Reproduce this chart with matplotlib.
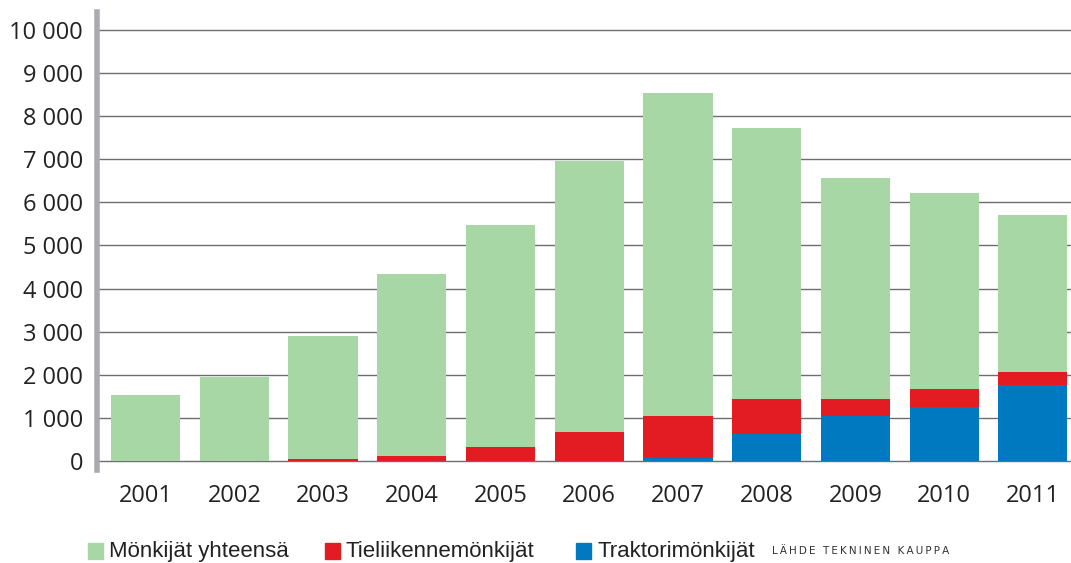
import matplotlib.pyplot as plt
import numpy as np
from matplotlib.patches import Rectangle

plt.rcParams["font.family"] = ["Open Sans", "DejaVu Sans"]

years = ["2001", "2002", "2003", "2004", "2005", "2006", "2007", "2008", "2009", "2010", "2011"]
total = [1530, 1950, 2900, 4340, 5480, 6960, 8540, 7730, 6570, 6220, 5710]
road = [0, 0, 50, 115, 325, 675, 1045, 1440, 1440, 1670, 2065]
tractor = [0, 0, 0, 0, 0, 0, 75, 635, 1050, 1255, 1765]

series_labels = ["Mönkijät yhteensä", "Tieliikennemönkijät", "Traktorimönkijät"]
colors = ["#a8d7a6", "#e31b23", "#0079c1"]
y_ticks = [0, 1000, 2000, 3000, 4000, 5000, 6000, 7000, 8000, 9000, 10000]

W, H = 1071, 563
fig = plt.figure(figsize=(W / 100, H / 100), dpi=100)
ax = fig.add_axes([0.0906, 0.165, 0.9094, 0.814])

x = np.arange(len(years))
w = 0.78
ax.bar(x, total, width=w, color=colors[0], zorder=2)
ax.bar(x, road, width=w, color=colors[1], zorder=3)
ax.bar(x, tractor, width=w, color=colors[2], zorder=4)

ax.set_xlim(-0.547, 10.43)
ax.set_ylim(-210, 10420)
ax.set_yticks(y_ticks)
ax.set_yticklabels([f"{v:,}".replace(",", " ") for v in y_ticks])
ax.set_xticks(x)
ax.set_xticklabels(years)
ax.tick_params(axis="both", length=0, labelsize=17, colors="#222222")
ax.tick_params(axis="y", pad=10)
ax.tick_params(axis="x", pad=10)

for v in y_ticks:
    ax.axhline(v, color="#6e6e6e", linewidth=1.0, zorder=1)

for side in ["top", "right", "bottom"]:
    ax.spines[side].set_visible(False)
ax.spines["left"].set_color("#a9abae")
ax.spines["left"].set_linewidth(4)

# legend drawn by hand so the items sit where the original puts them
legend_x = [88, 325, 576]
legend_y = 551
for px, lab, c in zip(legend_x, series_labels, colors):
    fig.patches.append(Rectangle((px / W, (H - legend_y - 8) / H), 15 / W, 16 / H,
                                 transform=fig.transFigure, color=c, figure=fig))
    fig.text((px + 21) / W, (H - legend_y) / H, lab, fontsize=16,
             family=["Liberation Sans", "DejaVu Sans"],
             va="center", ha="left", color="#222222")

source = "\u2009".join("LÄHDE TEKNINEN KAUPPA")
fig.text(772 / W, (H - legend_y) / H, source, fontsize=7.5, va="center", ha="left",
         family=["DejaVu Sans"], color="#333333")

fig.savefig("out.png", dpi=100)
